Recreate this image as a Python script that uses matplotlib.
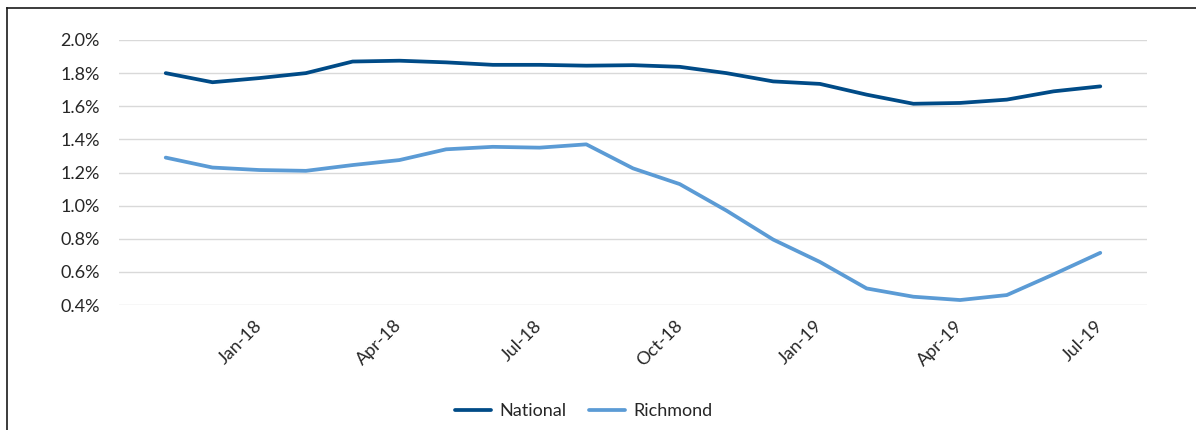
import matplotlib
matplotlib.use("Agg")
import matplotlib.pyplot as plt
from matplotlib.lines import Line2D

plt.rcParams['font.family'] = ['Lato', 'DejaVu Sans']

# monthly data, Nov-17 .. Jul-19
months = ['Nov-17', 'Dec-17', 'Jan-18', 'Feb-18', 'Mar-18', 'Apr-18', 'May-18',
          'Jun-18', 'Jul-18', 'Aug-18', 'Sep-18', 'Oct-18', 'Nov-18', 'Dec-18',
          'Jan-19', 'Feb-19', 'Mar-19', 'Apr-19', 'May-19', 'Jun-19', 'Jul-19']
national = [1.80, 1.745, 1.77, 1.80, 1.87, 1.875, 1.865, 1.85, 1.85, 1.845, 1.848,
            1.838, 1.80, 1.75, 1.735, 1.67, 1.615, 1.62, 1.64, 1.69, 1.72]
richmond = [1.29, 1.23, 1.215, 1.21, 1.245, 1.275, 1.34, 1.355, 1.35, 1.37, 1.225,
            1.13, 0.97, 0.795, 0.66, 0.50, 0.45, 0.43, 0.46, 0.585, 0.715]
tick_labels = ['Jan-18', 'Apr-18', 'Jul-18', 'Oct-18', 'Jan-19', 'Apr-19', 'Jul-19']
y_ticks = [0.4, 0.6, 0.8, 1.0, 1.2, 1.4, 1.6, 1.8, 2.0]

fig = plt.figure(figsize=(11.96, 4.30), dpi=100)
ax = fig.add_axes([119/1196, 1 - 305/430, (1147 - 119)/1196, 265/430])

x = list(range(len(months)))
ax.plot(x, national, color='#004B87', lw=2.7, label='National', solid_capstyle='round')
ax.plot(x, richmond, color='#5B9BD5', lw=2.7, label='Richmond', solid_capstyle='round')

ax.set_xlim(-1, 21)
ax.set_ylim(0.4, 2.0)
ax.set_yticks(y_ticks)
ax.set_yticklabels([f'{v:.1f}%' for v in y_ticks])
ax.yaxis.grid(True, color='#D9D9D9', lw=1)
ax.set_axisbelow(True)

tick_pos = [months.index(m) for m in tick_labels]
ax.set_xticks(tick_pos)
ax.set_xticklabels(tick_labels, rotation=45, ha='right', va='center', rotation_mode='anchor')

ax.tick_params(axis='both', length=0, labelsize=13, colors='#262626')
ax.tick_params(axis='y', pad=14)
ax.tick_params(axis='x', pad=13)
for s in ax.spines.values():
    s.set_visible(False)

fig.legend(loc='center', bbox_to_anchor=(584/1196, 1 - 411/430), ncol=2, frameon=False,
           fontsize=13, handlelength=2.0, handletextpad=0.45, columnspacing=1.25,
           labelcolor='#262626')

# outer border (top and left only visible)
fig.add_artist(Line2D([7/1196, 1], [1 - 8/430, 1 - 8/430], color='#1a1a1a', lw=1.2))
fig.add_artist(Line2D([7/1196, 7/1196], [0, 1 - 8/430], color='#1a1a1a', lw=1.2))

fig.savefig('out.png', dpi=100)
